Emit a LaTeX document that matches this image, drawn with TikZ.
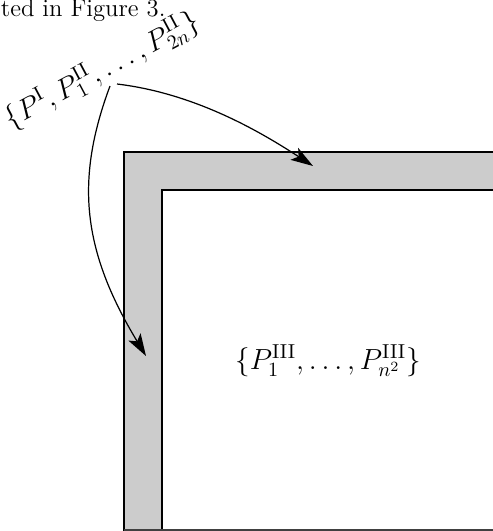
\documentclass[tikz,border=0pt]{standalone}
\usetikzlibrary{arrows.meta}
\begin{document}
\begin{tikzpicture}[x=0.495pt,y=-0.495pt,
  band/.style={draw=black,line width=0.6pt,fill=black!20},
  hole/.style={draw=black,line width=0.6pt,fill=white},
  setlabel/.style={inner sep=0pt,font=\fontsize{13.6}{16}\selectfont},
  conn/.style={line width=0.6pt,-{Stealth[length=11pt,width=7pt,inset=2.5pt]}}]
\useasboundingbox (0,0) rectangle (493,531);
\clip (0,0) rectangle (493,531);
% gray L-shaped band and white interior
\path[band] (124,152) rectangle (560,600);
\path[hole] (162,190) rectangle (560,530.5);
\draw[line width=0.9pt,black!75] (124,530) -- (560,530);
% texts
\node[anchor=base west,inner sep=0pt,font=\fontsize{12.2}{15}\selectfont] (cap) at (0.5,16.5) {ted in Figure 3.};
\node[setlabel,rotate=28] (sI) at (102,70)
  {$\{P^{\mathrm{I}},P^{\mathrm{II}}_1,\ldots,P^{\mathrm{II}}_{2n}\}$};
\node[setlabel] (sIII) at (328,361)
  {$\{P^{\mathrm{III}}_1,\ldots,P^{\mathrm{III}}_{n^2}\}$};
% connector ends
\coordinate (s1) at (117,84);
\coordinate (s2) at (110,86);
\coordinate (t1) at (313,166);
\coordinate (t2) at (146,356);
\draw[conn] (s1) .. controls (197,93.6) and (263,133.5) .. (t1);
\draw[conn] (s2) .. controls (75,180) and (82,250) .. (t2);
\end{tikzpicture}
\end{document}
